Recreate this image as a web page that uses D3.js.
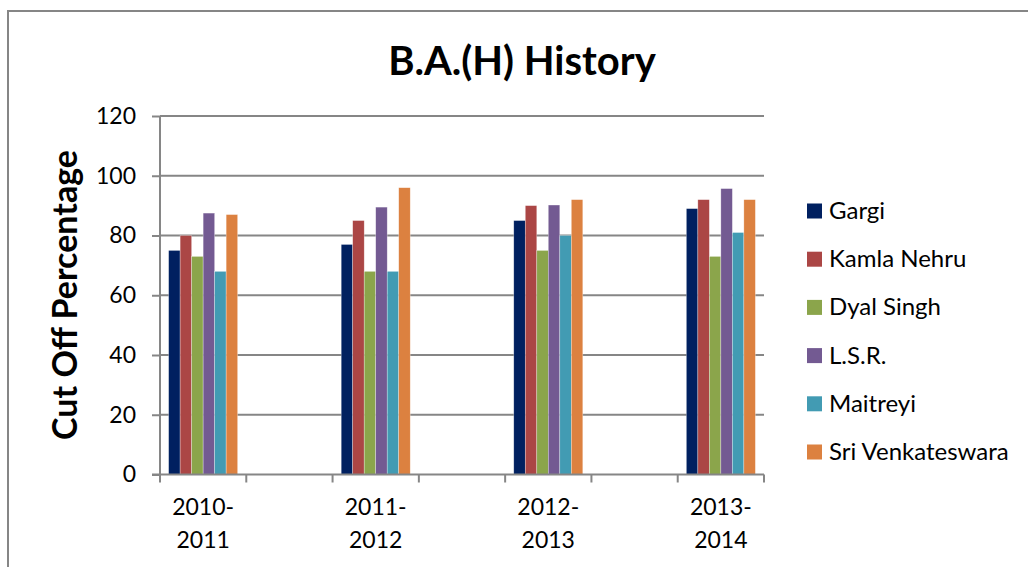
<!DOCTYPE html>
<html>
<head>
<meta charset="utf-8">
<script src="https://cdn.jsdelivr.net/npm/d3@7"></script>
<style>
  body { margin: 0; background: #fff; }
  text { font-family: Lato, "Noto Sans", sans-serif; fill: #000; }
</style>
</head>
<body>
<svg id="chart" width="1028" height="567"></svg>
<script>
// data
const years = ["2010-2011", "2011-2012", "2012-2013", "2013-2014"];
const colleges = ["Gargi", "Kamla Nehru", "Dyal Singh", "L.S.R.", "Maitreyi", "Sri Venkateswara"];
const gargi = [75, 77, 85, 89];
const kamlaNehru = [80, 85, 90, 92];
const dyalSingh = [73, 68, 75, 73];
const lsr = [87.5, 89.5, 90.2, 95.7];
const maitreyi = [68, 68, 80, 81];
const sriVenkateswara = [87, 96, 92, 92];
const yTicks = [0, 20, 40, 60, 80, 100, 120];

const seriesValues = [gargi, kamlaNehru, dyalSingh, lsr, maitreyi, sriVenkateswara];
const colors = ["#002060", "#ab4645", "#8ba54b", "#735a92", "#429bb3", "#dc8140"];

const width = 1028, height = 567;
const plot = { left: 160, right: 764, top: 116, bottom: 474.5 };
const gridColor = "#868686";

const svg = d3.select("#chart");

// outer chart border (runs off the right and bottom)
svg.append("rect")
  .attr("x", 8).attr("y", 11)
  .attr("width", 1100).attr("height", 700)
  .attr("fill", "none").attr("stroke", gridColor).attr("stroke-width", 2);

// x slots: each year followed by an empty slot, like the source sheet
const slots = [];
years.forEach((y, i) => { slots.push(y); if (i < years.length - 1) slots.push("gap" + i); });

const x = d3.scaleBand().domain(slots).range([plot.left, plot.right]).padding(0);
const y = d3.scaleLinear().domain([0, 120]).range([plot.bottom, plot.top]);

// gridlines
svg.append("g")
  .selectAll("line")
  .data(yTicks.filter(d => d > 0))
  .join("line")
  .attr("x1", plot.left).attr("x2", plot.right)
  .attr("y1", d => y(d)).attr("y2", d => y(d))
  .attr("stroke", gridColor).attr("stroke-width", 2);

// bars: gap width 150% of a bar -> band holds 7.5 bar widths
const barW = x.bandwidth() / 7.5;
years.forEach((yr, i) => {
  const x0 = x(yr) + barW * 0.75;
  svg.append("g")
    .selectAll("rect")
    .data(seriesValues.map((vals, s) => ({ s, v: vals[i] })))
    .join("rect")
    .attr("x", d => x0 + d.s * barW)
    .attr("y", d => y(d.v))
    .attr("width", barW)
    .attr("height", d => y(0) - y(d.v))
    .attr("fill", d => colors[d.s])
    .attr("stroke", "#fff").attr("stroke-opacity", 0.5).attr("stroke-width", 0.6);
});

// y axis
const yAxis = svg.append("g")
  .attr("transform", `translate(${plot.left},0)`)
  .call(d3.axisLeft(y).tickValues(yTicks).tickSize(8).tickPadding(16));
yAxis.select(".domain").attr("stroke", gridColor).attr("stroke-width", 2)
  .attr("d", `M0,${y(120)}V${y(0)}`);
yAxis.selectAll(".tick line").attr("stroke", gridColor).attr("stroke-width", 2);
yAxis.selectAll(".tick text").attr("font-size", 23).attr("font-family", "Lato, sans-serif").attr("fill", "#000");

// x axis line and tick marks at slot boundaries
svg.append("line")
  .attr("x1", plot.left - 8).attr("x2", plot.right)
  .attr("y1", plot.bottom).attr("y2", plot.bottom)
  .attr("stroke", gridColor).attr("stroke-width", 2);
const bounds = slots.map(s => x(s)).concat([plot.right]);
svg.append("g")
  .selectAll("line")
  .data(bounds)
  .join("line")
  .attr("x1", d => d).attr("x2", d => d)
  .attr("y1", plot.bottom).attr("y2", plot.bottom + 8)
  .attr("stroke", gridColor).attr("stroke-width", 2);

// x labels on two lines
const xl = svg.append("g")
  .selectAll("text")
  .data(years)
  .join("text")
  .attr("x", d => x(d) + x.bandwidth() / 2)
  .attr("y", 515)
  .attr("text-anchor", "middle")
  .attr("font-size", 23);
xl.append("tspan").attr("x", d => x(d) + x.bandwidth() / 2).text(d => d.split("-")[0] + "-");
xl.append("tspan").attr("x", d => x(d) + x.bandwidth() / 2).attr("dy", 33).text(d => d.split("-")[1]);

// title
svg.append("text")
  .attr("x", 522).attr("y", 75)
  .attr("text-anchor", "middle")
  .attr("font-size", 40).attr("font-weight", "bold")
  .text("B.A.(H) History");

// y axis title
svg.append("text")
  .attr("transform", `translate(77,295) rotate(-90)`)
  .attr("text-anchor", "middle")
  .attr("font-size", 34).attr("font-weight", "bold")
  .text("Cut Off Percentage");

// legend
const legend = svg.append("g")
  .selectAll("g")
  .data(colleges)
  .join("g")
  .attr("transform", (d, i) => `translate(807,${211 + i * 48.2})`);
legend.append("rect")
  .attr("x", 0).attr("y", -7.5).attr("width", 15).attr("height", 15)
  .attr("fill", (d, i) => colors[i]);
legend.append("text")
  .attr("x", 22).attr("y", 8)
  .attr("font-size", 24)
  .text(d => d);
</script>
</body>
</html>
